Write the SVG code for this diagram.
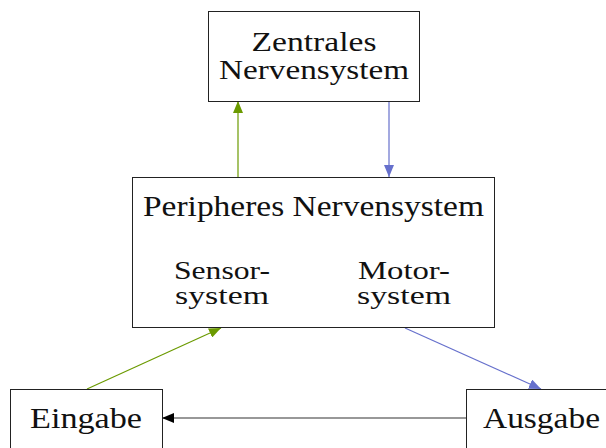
<svg xmlns="http://www.w3.org/2000/svg" width="606" height="448" viewBox="0 0 606 448">
  <defs>
    <style>
      .box { fill: #ffffff; stroke: #222222; stroke-width: 1; }
      .lbl { font-family: 'Liberation Serif', 'Times New Roman', serif; font-size: 29px; fill: #111111; text-anchor: middle; }
      .two { font-size: 27px; }
      .sub { font-size: 25px; }
      .green { stroke: #6b9a00; stroke-width: 1.2; fill: none; }
      .blue { stroke: #6670cc; stroke-width: 1.2; fill: none; }
      .black { stroke: #333333; stroke-width: 1.2; fill: none; }
    </style>
    <marker id="arrGreen" viewBox="0 0 12 10" refX="12" refY="5" markerWidth="12" markerHeight="10" markerUnits="userSpaceOnUse" orient="auto">
      <path d="M0,0 L12,5 L0,10 Z" fill="#6b9a00"/>
    </marker>
    <marker id="arrBlue" viewBox="0 0 12 10" refX="12" refY="5" markerWidth="12" markerHeight="10" markerUnits="userSpaceOnUse" orient="auto">
      <path d="M0,0 L12,5 L0,10 Z" fill="#6670cc"/>
    </marker>
    <marker id="arrBlack" viewBox="0 0 12 10" refX="12" refY="5" markerWidth="12" markerHeight="10" markerUnits="userSpaceOnUse" orient="auto">
      <path d="M0,0 L12,5 L0,10 Z" fill="#000000"/>
    </marker>
  </defs>

  <g id="connectors">
    <line class="green" x1="238" y1="177" x2="238" y2="101" marker-end="url(#arrGreen)"/>
    <line class="blue" x1="389" y1="101" x2="389" y2="177" marker-end="url(#arrBlue)"/>
    <line class="green" x1="87" y1="389" x2="221" y2="328" marker-end="url(#arrGreen)"/>
    <line class="blue" x1="405" y1="328" x2="541" y2="389" marker-end="url(#arrBlue)"/>
    <line class="black" x1="466" y1="418" x2="162" y2="418" marker-end="url(#arrBlack)"/>
  </g>

  <g id="zns">
    <rect class="box" x="208.5" y="11.5" width="211" height="90"/>
    <text class="lbl two" x="314" y="51" textLength="125" lengthAdjust="spacingAndGlyphs">Zentrales</text>
    <text class="lbl two" x="314" y="79" textLength="190" lengthAdjust="spacingAndGlyphs">Nervensystem</text>
  </g>

  <g id="pns">
    <rect class="box" x="132.5" y="177.5" width="362" height="150"/>
    <text class="lbl" x="313.5" y="216" textLength="341" lengthAdjust="spacingAndGlyphs">Peripheres Nervensystem</text>
    <text class="lbl sub" x="222" y="279" textLength="96" lengthAdjust="spacingAndGlyphs">Sensor-</text>
    <text class="lbl sub" x="222" y="304" textLength="94" lengthAdjust="spacingAndGlyphs">system</text>
    <text class="lbl sub" x="404" y="279" textLength="92" lengthAdjust="spacingAndGlyphs">Motor-</text>
    <text class="lbl sub" x="404" y="304" textLength="94" lengthAdjust="spacingAndGlyphs">system</text>
  </g>

  <g id="eingabe">
    <rect class="box" x="10.5" y="389.5" width="152" height="70"/>
    <text class="lbl" x="86" y="428" textLength="112" lengthAdjust="spacingAndGlyphs">Eingabe</text>
  </g>

  <g id="ausgabe">
    <rect class="box" x="466.5" y="389.5" width="150" height="70"/>
    <text class="lbl" x="541.5" y="428" textLength="117" lengthAdjust="spacingAndGlyphs">Ausgabe</text>
  </g>
</svg>
